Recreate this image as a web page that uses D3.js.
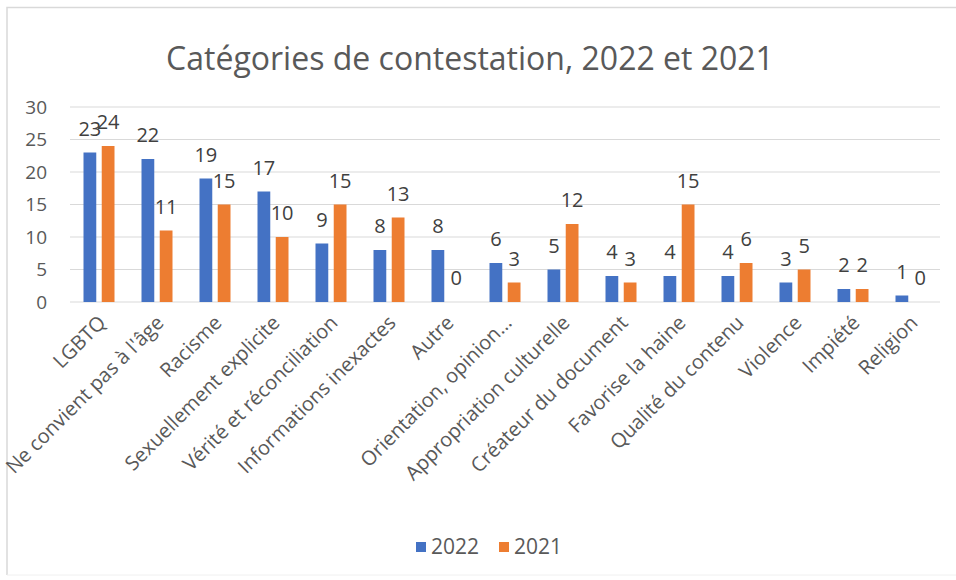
<!DOCTYPE html>
<html lang="fr">
  <head>
    <meta charset="utf-8">
    <script src="https://d3js.org/d3.v7.min.js"></script>
    <title>Catégories de contestation</title>
    <style>
      body { margin: 0; background: #fff; }
      text { font-family: "Open Sans", sans-serif; }
    </style>
  </head>
  <body>
    <div id="chart"></div>
  <script>

    // data
    const categories = ["LGBTQ", "Ne convient pas à l'âge", "Racisme", "Sexuellement explicite",
      "Vérité et réconciliation", "Informations inexactes", "Autre", "Orientation, opinion…",
      "Appropriation culturelle", "Créateur du document", "Favorise la haine", "Qualité du contenu",
      "Violence", "Impiété", "Religion"];
    const values2022 = [23, 22, 19, 17, 9, 8, 8, 6, 5, 4, 4, 4, 3, 2, 1];
    const values2021 = [24, 11, 15, 10, 15, 13, 0, 3, 12, 3, 15, 6, 5, 2, 0];
    const seriesNames = ["2022", "2021"];
    const yTicks = [0, 5, 10, 15, 20, 25, 30];

    const colors = {"2022": "#4472C4", "2021": "#ED7D31"};

    const W = 956, H = 580;

    const svg = d3.select("#chart")
      .append("svg")
        .attr("width", W)
        .attr("height", H);

    // frame
    svg.append("path")
      .attr("d", `M7,${H - 5} L7,7.5 L${W},7.5`)
      .attr("fill", "none")
      .attr("stroke", "#d9d9d9")
      .attr("stroke-width", 1.5);
    svg.append("line")
      .attr("x1", 7).attr("x2", W)
      .attr("y1", H - 5).attr("y2", H - 5)
      .attr("stroke", "#f0f0f0");

    const x = d3.scaleBand()
      .domain(categories)
      .range([70, 940]);

    const xs = d3.scaleBand()
      .domain(seriesNames)
      .range([x.bandwidth() / 2 - 15.5, x.bandwidth() / 2 + 15.5])
      .paddingInner(0.3);

    const y = d3.scaleLinear()
      .domain([0, 30])
      .range([302, 107]);

    // grid
    svg.append("g")
      .selectAll("line")
      .data(yTicks)
      .join("line")
        .attr("x1", 70).attr("x2", 940)
        .attr("y1", d => y(d)).attr("y2", d => y(d))
        .attr("stroke", "#d9d9d9")
        .attr("stroke-width", 1);

    // y axis labels
    svg.append("g")
      .selectAll("text")
      .data(yTicks)
      .join("text")
        .attr("x", 47)
        .attr("y", d => y(d))
        .attr("dy", "0.35em")
        .attr("text-anchor", "end")
        .style("font-size", "19px")
        .style("fill", "#595959")
        .text(d => d);

    // title
    svg.append("text")
      .attr("x", 470)
      .attr("y", 70)
      .attr("text-anchor", "middle")
      .style("font-size", "32px")
      .style("fill", "#595959")
      .text("Catégories de contestation, 2022 et 2021");

    const rows = categories.map((c, i) => ({cat: c, "2022": values2022[i], "2021": values2021[i]}));

    const groups = svg.append("g")
      .selectAll("g")
      .data(rows)
      .join("g")
        .attr("transform", d => `translate(${x(d.cat)},0)`);

    groups.selectAll("rect")
      .data(d => seriesNames.map(s => ({s: s, v: d[s]})))
      .join("rect")
        .attr("x", d => xs(d.s))
        .attr("width", xs.bandwidth())
        .attr("y", d => y(d.v))
        .attr("height", d => y(0) - y(d.v))
        .attr("fill", d => colors[d.s]);

    groups.selectAll("text")
      .data(d => seriesNames.map(s => ({s: s, v: d[s]})))
      .join("text")
        .attr("x", d => xs(d.s) + xs.bandwidth() / 2)
        .attr("y", d => y(d.v) - 17)
        .attr("text-anchor", "middle")
        .style("font-size", "20px")
        .style("fill", "#404040")
        .text(d => d.v);

    // category labels, rotated
    svg.append("g")
      .selectAll("text")
      .data(categories)
      .join("text")
        .attr("transform", d => `translate(${x(d) + x.bandwidth() / 2 + 8},324) rotate(-45)`)
        .attr("text-anchor", "end")
        .style("font-size", "20px")
        .style("fill", "#595959")
        .text(d => d);

    // legend
    const legend = svg.append("g")
      .attr("transform", "translate(416,547)");
    const li = legend.selectAll("g")
      .data(seriesNames)
      .join("g")
        .attr("transform", (d, i) => `translate(${i * 83},0)`);
    li.append("rect")
      .attr("x", 0).attr("y", -5)
      .attr("width", 10).attr("height", 10)
      .attr("fill", d => colors[d]);
    li.append("text")
      .attr("x", 15)
      .attr("y", 0)
      .attr("dy", "0.35em")
      .style("font-size", "21px")
      .style("fill", "#595959")
      .text(d => d);

  </script>
  </body>
</html>
